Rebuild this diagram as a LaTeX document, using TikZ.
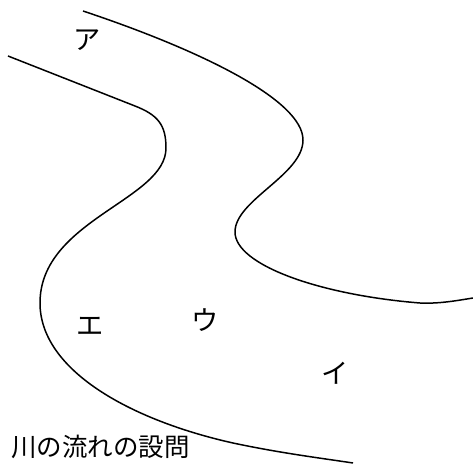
\documentclass[tikz,border=0pt]{standalone}
\usepackage{fontspec}
\newfontfamily\jpfont{Noto Sans CJK JP}
\usetikzlibrary{positioning}

\tikzset{
  bank/.style={line width=0.85pt, line join=round},
  mark label/.style={font=\jpfont\fontsize{15.5}{18}\selectfont, inner sep=0pt},
  caption/.style={font=\jpfont\fontsize{14.5}{17}\selectfont, inner sep=0pt},
}

\begin{document}
\begin{tikzpicture}[x=0.02cm, y=-0.02cm]
        \useasboundingbox (0,0) rectangle (473,466);

        % right bank
        \draw[bank] (83,11) .. controls (200,50) and (303,100) .. (303,140)
          .. controls (303,175) and (235,200) .. (235,232)
          .. controls (235,265) and (320,295) .. (420,303)
          .. controls (440,304) and (460,300) .. (473,298);

        % left bank
        \draw[bank] (8,56) -- (135,106)
          .. controls (158,115) and (166,125) .. (166,148)
          .. controls (166,200) and (40,220) .. (40,303)
          .. controls (40,370) and (130,420) .. (233,443)
          .. controls (280,453) and (320,458) .. (353,463);

        \node[mark label] (a) at (87,40) {ア};
        \node[mark label] (i) at (335,373) {イ};
        \node[mark label] (u) at (205,320) {ウ};
        \node[mark label] (e) at (90,326) {エ};

        \node[caption, anchor=west] (title) at (11,447) {川の流れの設問};
\end{tikzpicture}
\end{document}
